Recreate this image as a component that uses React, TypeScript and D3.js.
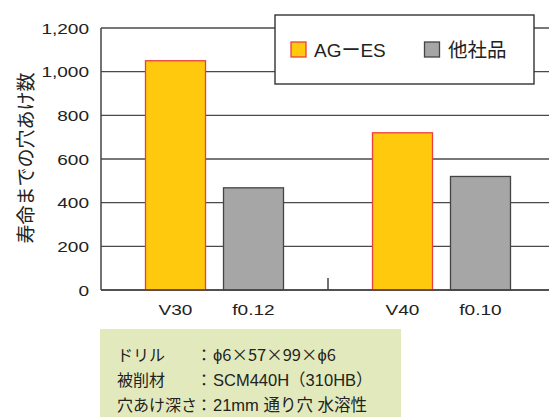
import React from "react";
import * as d3 from "d3";

const groups = ["V30", "V40"];
const subLabels = [["V30", "f0.12"], ["V40", "f0.10"]];
const series = ["AGーES", "他社品"];
const agesValues = [1050, 720];
const otherValues = [468, 520];
const yTicks = [0, 200, 400, 600, 800, 1000, 1200];
const noteLabels = ["ドリル", "被削材", "穴あけ深さ"];
const noteValues = ["ϕ6×57×99×ϕ6", "SCM440H（310HB）", "21mm 通り穴 水溶性"];
const yTitle = "寿命までの穴あけ数";

const W = 549;
const H = 417;
const plotLeft = 101;
const plotRight = 555;
const plotTop = 28;
const plotBottom = 290;

const fills = ["#ffc90d", "#a6a6a6"];
const strokes = ["#ee3d3d", "#444444"];
const latin = "'Liberation Sans', Arial, 'Noto Sans CJK JP', sans-serif";
const cjk = "'Noto Sans CJK JP', 'Liberation Sans', sans-serif";

export default function App() {
  const y = d3.scaleLinear().domain([0, 1200]).range([plotBottom, plotTop]);
  const xg = d3.scaleBand().domain(groups).range([plotLeft, plotRight]).padding(0);
  const innerWidth = 138;
  const xi = d3
    .scaleBand()
    .domain(series)
    .range([0, innerWidth])
    .paddingInner(18 / 78)
    .paddingOuter(0);
  const gOffset = (xg.bandwidth() - innerWidth) / 2;
  const fmt = d3.format(",");
  const valuesBySeries = [agesValues, otherValues];

  return (
    <svg
      width={W}
      height={H}
      style={{ position: "absolute", left: 0, top: 0, background: "#fff" }}
    >
      {yTicks.map((t) => (
        <line
          key={"g" + t}
          x1={plotLeft}
          x2={W}
          y1={y(t)}
          y2={y(t)}
          stroke="#4a4a4a"
          strokeWidth={1.3}
        />
      ))}
      {groups.map((g, gi) =>
        series.map((s, si) => {
          const v = valuesBySeries[si][gi];
          const x0 = (xg(g) as number) + gOffset + (xi(s) as number);
          return (
            <rect
              key={g + s}
              x={x0}
              y={y(v)}
              width={xi.bandwidth()}
              height={plotBottom - y(v)}
              fill={fills[si]}
              stroke={strokes[si]}
              strokeWidth={1.3}
            />
          );
        })
      )}
      <line x1={plotLeft} x2={plotLeft} y1={plotTop} y2={plotBottom} stroke="#444" strokeWidth={1.5} />
      <line x1={plotLeft} x2={W} y1={plotBottom} y2={plotBottom} stroke="#444" strokeWidth={1.5} />
      {groups.slice(1).map((g) => (
        <line
          key={"t" + g}
          x1={xg(g) as number}
          x2={xg(g) as number}
          y1={plotBottom - 12}
          y2={plotBottom}
          stroke="#444"
          strokeWidth={1.5}
        />
      ))}
      {yTicks.map((t) => (
        <text
          key={"l" + t}
          transform={`translate(89,${y(t) + 5.5}) scale(1.27,1)`}
          textAnchor="end"
          fontFamily={latin}
          fontSize={15}
          fill="#222"
        >
          {fmt(t)}
        </text>
      ))}
      {groups.map((g, gi) =>
        series.map((s, si) => {
          const cx = (xg(g) as number) + gOffset + (xi(s) as number) + xi.bandwidth() / 2;
          return (
            <text
              key={"x" + g + s}
              transform={`translate(${cx},315) scale(1.27,1)`}
              textAnchor="middle"
              fontFamily={latin}
              fontSize={15}
              fill="#222"
            >
              {subLabels[gi][si]}
            </text>
          );
        })
      )}
      <text
        transform={`translate(24,158) rotate(-90)`}
        textAnchor="middle"
        dominantBaseline="central"
        fontFamily={cjk}
        fontSize={19}
        fill="#222"
      >
        {yTitle}
      </text>
      <rect x={275} y={15} width={259} height={69} fill="#fff" stroke="#333" strokeWidth={1.4} />
      <rect x={291} y={42} width={15} height={15} fill={fills[0]} stroke={strokes[0]} strokeWidth={1.3} />
      <text x={314} y={57} fontFamily={latin} fontSize={19} fill="#222">
        {series[0]}
      </text>
      <rect x={424.5} y={42} width={15} height={15} fill={fills[1]} stroke={strokes[1]} strokeWidth={1.3} />
      <text x={448} y={57} fontFamily={cjk} fontSize={19.5} fill="#222">
        {series[1]}
      </text>
      <rect x={100} y={329} width={301} height={88} fill="#e2eabd" />
      {noteLabels.map((l, i) => (
        <g key={"n" + i} fontFamily={cjk} fontSize={16} fill="#222">
          <text x={117} y={361 + i * 25}>
            {l}
          </text>
          <text x={196} y={361 + i * 25}>
            ：
          </text>
          <text x={213} y={361 + i * 25} fontFamily={i === 0 ? cjk : "'Liberation Sans', 'Noto Sans CJK JP', sans-serif"} fontSize={16.5}>
            {noteValues[i]}
          </text>
        </g>
      ))}
    </svg>
  );
}
